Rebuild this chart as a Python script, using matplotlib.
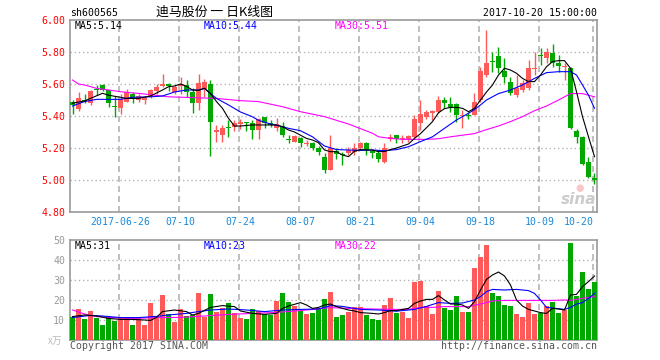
import numpy as np
import matplotlib.pyplot as plt

plt.rcParams['font.family'] = ['DejaVu Sans Mono', 'Noto Sans CJK SC']
plt.rcParams['lines.scale_dashes'] = False

W, H = 660, 360

# daily candles, index 0 .. 87
opens = [5.485, 5.445, 5.50, 5.48, 5.565, 5.595, 5.56, 5.46, 5.45, 5.49,
         5.54, 5.50, 5.50, 5.525, 5.558, 5.585, 5.60, 5.55, 5.59, 5.595,
         5.548, 5.483, 5.567, 5.60, 5.298, 5.28, 5.33, 5.333, 5.348, 5.3625,
         5.354, 5.3125, 5.396, 5.354, 5.327, 5.3375, 5.252, 5.24, 5.265, 5.225,
         5.233, 5.202, 5.146, 5.0625, 5.183, 5.158, 5.17, 5.177, 5.198, 5.229,
         5.183, 5.167, 5.114, 5.254, 5.281, 5.258, 5.254, 5.271, 5.354, 5.396,
         5.42, 5.427, 5.50, 5.475, 5.475, 5.403, 5.407, 5.406, 5.50, 5.656,
         5.742, 5.775, 5.683, 5.615, 5.531, 5.5625, 5.573, 5.696, 5.777, 5.76,
         5.796, 5.733, 5.706, 5.698, 5.308, 5.267, 5.114, 5.01]
highs = [5.50, 5.55, 5.54, 5.56, 5.594, 5.60, 5.565, 5.525, 5.54, 5.57,
         5.55, 5.54, 5.525, 5.57, 5.60, 5.665, 5.605, 5.595, 5.646, 5.625,
         5.573, 5.6625, 5.629, 5.625, 5.344, 5.344, 5.375, 5.375, 5.38, 5.3625,
         5.375, 5.385, 5.396, 5.375, 5.385, 5.365, 5.28, 5.28, 5.27, 5.25,
         5.24, 5.2125, 5.167, 5.28, 5.198, 5.177, 5.204, 5.23, 5.235, 5.235,
         5.19, 5.1875, 5.23, 5.29, 5.281, 5.28, 5.28, 5.406, 5.50, 5.4375,
         5.4375, 5.525, 5.517, 5.517, 5.483, 5.4375, 5.427, 5.546, 5.708, 5.9375,
         5.80, 5.833, 5.76, 5.646, 5.656, 5.625, 5.75, 5.80, 5.823, 5.823,
         5.85, 5.78, 5.73, 5.708, 5.317, 5.275, 5.146, 5.042]
lows = [5.41, 5.43, 5.48, 5.47, 5.53, 5.555, 5.455, 5.395, 5.41, 5.485,
        5.48, 5.485, 5.475, 5.515, 5.54, 5.58, 5.555, 5.54, 5.54, 5.52,
        5.42, 5.44, 5.52, 5.152, 5.24, 5.24, 5.27, 5.306, 5.32, 5.308,
        5.256, 5.256, 5.323, 5.333, 5.308, 5.27, 5.23, 5.235, 5.208, 5.2125,
        5.19, 5.156, 5.042, 5.0625, 5.129, 5.094, 5.156, 5.156, 5.1875, 5.156,
        5.14, 5.115, 5.108, 5.246, 5.23, 5.23, 5.24, 5.26, 5.3125, 5.379,
        5.375, 5.42, 5.448, 5.427, 5.365, 5.323, 5.379, 5.406, 5.49, 5.646,
        5.677, 5.667, 5.604, 5.531, 5.52, 5.552, 5.5625, 5.656, 5.72, 5.729,
        5.708, 5.677, 5.625, 5.317, 5.23, 5.094, 5.01, 4.975]
closes = [5.47, 5.514, 5.495, 5.555, 5.56, 5.565, 5.48, 5.455, 5.505, 5.55,
          5.505, 5.525, 5.515, 5.56, 5.583, 5.60, 5.585, 5.583, 5.598, 5.55,
          5.48, 5.608, 5.615, 5.365, 5.3125, 5.323, 5.325, 5.354, 5.365, 5.354,
          5.3125, 5.379, 5.354, 5.345, 5.348, 5.28, 5.25, 5.275, 5.233, 5.228,
          5.202, 5.177, 5.0625, 5.198, 5.1625, 5.155, 5.1875, 5.198, 5.229, 5.1875,
          5.17, 5.129, 5.198, 5.267, 5.254, 5.262, 5.275, 5.381, 5.41, 5.425,
          5.43, 5.50, 5.483, 5.454, 5.406, 5.407, 5.403, 5.49, 5.68, 5.729,
          5.738, 5.698, 5.646, 5.546, 5.573, 5.604, 5.698, 5.70, 5.773, 5.802,
          5.733, 5.715, 5.71, 5.323, 5.267, 5.10, 5.02, 5.00]
volumes = [11.3, 15.5, 10.5, 14.5, 11.2, 7.5, 12, 9.5, 11.3, 11.3,
           7.5, 11.5, 7.5, 18.5, 11.3, 22.5, 13, 9, 15.5, 12,
           12.5, 23.5, 11.7, 23, 14, 16, 18.5, 13.5, 11, 10.5,
           15.5, 14.5, 13, 12.5, 19.5, 23.5, 19, 17, 14.5, 13,
           13.5, 16, 20.5, 24, 11.5, 12.5, 14, 16.5, 16.5, 12.5,
           10.5, 10, 17.5, 21, 13.5, 14, 11, 29, 29.5, 17,
           13, 24.5, 16, 15, 22, 14, 14, 36, 41.5, 47.5,
           23.5, 22, 17.5, 17, 13, 11.5, 18.5, 13, 13.5, 17,
           19, 13.5, 15, 48.5, 22, 34, 25.5, 29]

# moving averages (index, value)
ma5_idx = [0, 2, 3, 5, 6, 8, 9, 11, 13, 15, 16, 17, 18, 19, 20, 21, 22, 23, 24, 25,
           26, 27, 28, 30, 32, 34, 35, 36, 37, 38, 39, 40, 41, 42, 43, 44, 45, 46, 47, 48,
           49, 50, 51, 52, 53, 54, 55, 56, 57, 58, 59, 60, 61, 62, 63, 64, 65, 66, 67, 68,
           69, 70, 71, 72, 73, 74, 75, 76, 77, 78, 79, 80, 81, 82, 83, 84, 85, 86, 87]
ma5_val = [5.48, 5.494, 5.51, 5.542, 5.53, 5.517, 5.51, 5.51, 5.525, 5.5625, 5.583, 5.5875, 5.60, 5.585, 5.5625, 5.56, 5.573, 5.54, 5.49, 5.448,
           5.385, 5.3375, 5.3375, 5.344, 5.344, 5.344, 5.333, 5.3125, 5.30, 5.28, 5.26, 5.25, 5.233, 5.1875, 5.177, 5.177, 5.156, 5.146, 5.18, 5.19,
           5.1875, 5.1875, 5.177, 5.178, 5.19, 5.20, 5.2125, 5.225, 5.26, 5.29, 5.327, 5.365, 5.42, 5.446, 5.454, 5.454, 5.448, 5.427, 5.448, 5.50,
           5.55, 5.594, 5.656, 5.698, 5.6875, 5.667, 5.635, 5.615, 5.615, 5.656, 5.708, 5.74, 5.746, 5.746, 5.698, 5.552, 5.396, 5.27, 5.146]
ma10_idx = [0, 2, 4, 8, 10, 13, 15, 17, 19, 21, 22, 23, 24, 26, 28, 30, 31, 33, 35, 36,
            38, 40, 42, 44, 46, 48, 50, 52, 54, 56, 58, 60, 62, 64, 66, 67, 68, 69, 71, 73,
            75, 77, 79, 81, 83, 84, 85, 86, 87]
ma10_val = [5.4625, 5.49, 5.504, 5.504, 5.517, 5.52, 5.525, 5.55, 5.5625, 5.5625, 5.573, 5.54, 5.51, 5.469, 5.425, 5.395, 5.373, 5.35, 5.333, 5.323,
            5.308, 5.27, 5.2125, 5.19, 5.1875, 5.185, 5.1875, 5.183, 5.19, 5.208, 5.24, 5.27, 5.323, 5.375, 5.417, 5.44, 5.469, 5.50, 5.54, 5.5625,
            5.594, 5.635, 5.671, 5.677, 5.677, 5.656, 5.594, 5.53, 5.448]
ma30_idx = [0, 1, 2, 4, 8, 12, 16, 20, 24, 28, 31, 35, 38, 42, 46, 50, 51, 53, 55, 59,
            61, 63, 65, 67, 69, 71, 73, 75, 77, 79, 81, 83, 84, 85, 86, 87]
ma30_val = [5.625, 5.60, 5.594, 5.573, 5.552, 5.5375, 5.52, 5.515, 5.51, 5.496, 5.49, 5.458, 5.427, 5.396, 5.35, 5.292, 5.27, 5.26, 5.254, 5.254,
            5.258, 5.27, 5.28, 5.29, 5.315, 5.3375, 5.365, 5.396, 5.433, 5.4625, 5.50, 5.54, 5.54, 5.54, 5.53, 5.52]

vma5_idx = [0, 2, 4, 6, 8, 10, 12, 13, 14, 15, 17, 19, 20, 21, 23, 25, 27, 28, 30, 32,
            34, 35, 36, 38, 39, 40, 41, 42, 43, 44, 45, 46, 47, 48, 50, 51, 52, 53, 54, 55,
            56, 57, 58, 59, 60, 61, 62, 63, 64, 65, 66, 67, 68, 69, 70, 71, 72, 73, 74, 75,
            76, 77, 78, 79, 80, 81, 82, 83, 84, 85, 86, 87]
vma5_val = [11.7, 12.5, 12, 10.8, 10.3, 10.3, 10, 9.8, 11.3, 14.2, 15, 14.2, 12.5, 13.3, 16.3, 17.2, 16.7, 14.5, 13.3, 12.8,
            13.3, 15.8, 17, 18.7, 17.5, 15.8, 16.3, 17.5, 18, 16.7, 15.8, 15, 14.5, 13.7, 13.3, 13, 13.7, 14.7, 14.7, 15.3,
            15.8, 18.3, 19.5, 20.3, 20.3, 22.2, 20, 18, 18, 17.5, 15.8, 19.2, 25, 30.3, 32.5, 34, 32, 27.5, 20, 17,
            15.3, 14.5, 13.7, 13.3, 15.8, 15.5, 15, 22.5, 22.8, 26.7, 29.2, 32]
vma10_idx = [0, 3, 5, 8, 11, 14, 16, 19, 21, 23, 26, 29, 32, 35, 38, 41, 43, 45, 48, 51,
             54, 57, 59, 61, 63, 65, 67, 68, 69, 70, 72, 74, 76, 77, 78, 79, 80, 82, 83, 84,
             85, 86, 87]
vma10_val = [11.2, 12.3, 12, 11.2, 11.2, 11.8, 12.5, 13.3, 14.2, 15, 15.5, 15, 14.2, 15, 15.3, 15.5, 17.2, 16.8, 15.3, 15,
             14.4, 15.3, 16.8, 18.7, 18.3, 18.5, 20, 21.7, 24.2, 25.3, 25, 25.3, 24.7, 23.3, 20, 16.3, 16, 15.3, 16.3, 18,
             18.7, 20.8, 23.3]
vma30_idx = [0, 2, 4, 6, 10, 14, 18, 22, 26, 30, 34, 38, 43, 46, 50, 54, 56, 58, 60, 62,
             66, 68, 70, 72, 76, 80, 82, 83, 84, 86, 87]
vma30_val = [15, 13, 11.7, 11.3, 10.8, 11.2, 11.3, 12, 12.8, 13.3, 13.8, 14.7, 16.2, 15.8, 15.5, 15.3, 15.3, 16.3, 16.3, 16.7,
             16.7, 18, 19.5, 19.8, 19.8, 19.8, 20, 19.8, 20.3, 21.3, 21.7]

# legend texts shown on the chart
price_legend = ['MA5:5.14', 'MA10:5.44', 'MA30:5.51']
vol_legend = ['MA5:31', 'MA10:23', 'MA30:22']

tick_idx = [8, 18, 28, 38, 48, 58, 68, 78, 87]
tick_lab = ['2017-06-26', '07-10', '07-24', '08-07', '08-21', '09-04', '09-18', '10-09', '10-20']
price_ticks = [4.80, 5.00, 5.20, 5.40, 5.60, 5.80, 6.00]
vol_ticks = [10, 20, 30, 40, 50]

RED = '#ff5a5a'
GREEN = '#00a800'
GRAY = '#999999'
GRID = '#b4b4b4'
MA_COLORS = ['black', '#0000ff', '#ff00ff']
LW = 0.8


def fig_xy(x, y):
    return x / W, 1 - y / H


fig = plt.figure(figsize=(6.6, 3.6), dpi=100)
ax = fig.add_axes([70 / W, 1 - 212 / H, 527 / W, 192 / H])
axv = fig.add_axes([70 / W, 1 - 340 / H, 527 / W, 100 / H])

n = len(closes)
x = np.arange(n)
o = np.array(opens)
c = np.array(closes)
up = c >= o
cols = [RED if u else GREEN for u in up]
xlim = (-2.5 / 6, 87 + 5 / 12)

# candles
ax.vlines(x, lows, highs, colors=cols, lw=1, zorder=3)
body_lo = np.minimum(o, c)
body_h = np.maximum(np.abs(c - o), 0.006)
ax.bar(x, body_h, bottom=body_lo, width=0.82, color=cols, lw=0, zorder=4)

ax.plot(ma30_idx, ma30_val, color=MA_COLORS[2], lw=LW, zorder=5)
ax.plot(ma10_idx, ma10_val, color=MA_COLORS[1], lw=LW, zorder=5)
ax.plot(ma5_idx, ma5_val, color=MA_COLORS[0], lw=LW, zorder=6)

ax.set_xlim(*xlim)
ax.set_ylim(4.80, 6.00)
ax.set_yticks(price_ticks)
ax.set_yticklabels(['%.2f' % p for p in price_ticks], color='#ff0000', fontsize=7.1)
ax.set_xticks([])
for p in price_ticks[1:-1]:
    ax.axhline(p, color=GRID, lw=1, ls=(0, (1, 2)), zorder=1)

# volume
axv.bar(x, volumes, width=0.82, color=cols, lw=0, zorder=3)
axv.plot(vma30_idx, vma30_val, color=MA_COLORS[2], lw=LW, zorder=5)
axv.plot(vma10_idx, vma10_val, color=MA_COLORS[1], lw=LW, zorder=5)
axv.plot(vma5_idx, vma5_val, color=MA_COLORS[0], lw=LW, zorder=6)
axv.set_xlim(*xlim)
axv.set_ylim(0, 50)
axv.set_yticks(vol_ticks)
axv.set_yticklabels([str(v) for v in vol_ticks], color=GRAY, fontsize=7.1)
axv.set_xticks([])
for v in vol_ticks[:-1]:
    axv.axhline(v, color=GRID, lw=1, ls=(0, (1, 2)), zorder=1)

for a in (ax, axv):
    for s in a.spines.values():
        s.set_color(GRAY)
        s.set_linewidth(1.2)
    a.tick_params(axis='y', length=0, pad=3.5)
    for t in tick_idx:
        a.axvline(t - 0.3, color=GRID, lw=1.2, ls=(0, (4.3, 2.9)), zorder=1)

# date labels
tr = ax.get_xaxis_transform()
for t, lab in zip(tick_idx, tick_lab):
    ha = 'right' if t == tick_idx[-1] else 'center'
    xx = t - 0.05 if ha == 'right' else t - 0.1
    ax.text(xx, -10 / 192, lab, transform=tr, ha=ha, va='center',
            color='#1a88d8', fontsize=7.1)

# header
fig.text(*fig_xy(70, 13), 'sh600565', ha='left', va='center', fontsize=7.1)
fig.text(*fig_xy(214, 12), '迪马股份 一 日K线图', ha='center', va='center',
         fontsize=9.3, family=['Noto Sans CJK SC', 'DejaVu Sans'])
fig.text(*fig_xy(597, 13), '2017-10-20 15:00:00', ha='right', va='center', fontsize=7.1)

# legends
leg_x = [75, 204, 335]
for lx, s, col in zip(leg_x, price_legend, MA_COLORS):
    fig.text(*fig_xy(lx, 26), s, ha='left', va='center', fontsize=7.1, color=col)
for lx, s, col in zip(leg_x, vol_legend, MA_COLORS):
    fig.text(*fig_xy(lx, 246), s, ha='left', va='center', fontsize=7.1, color=col)

fig.text(*fig_xy(62, 341), 'x万', ha='right', va='center', fontsize=7, color='#bbbbbb',
         family=['Noto Sans CJK SC', 'DejaVu Sans'], style='italic')
fig.text(*fig_xy(70, 346), 'Copyright 2017 SINA.COM', ha='left', va='center', fontsize=7.1, color='#555555')
fig.text(*fig_xy(597, 346), 'http://finance.sina.com.cn', ha='right', va='center', fontsize=7.1, color='#555555')

# watermark
fig.text(*fig_xy(596, 199), 'sina', ha='right', va='center', fontsize=11, color='#cccccc',
         family='DejaVu Sans', weight='bold', style='italic')
fig.text(*fig_xy(580, 188), '●', ha='center', va='center', fontsize=7, color='#f8c8c8', family='DejaVu Sans')

fig.savefig('out.png', dpi=100)
